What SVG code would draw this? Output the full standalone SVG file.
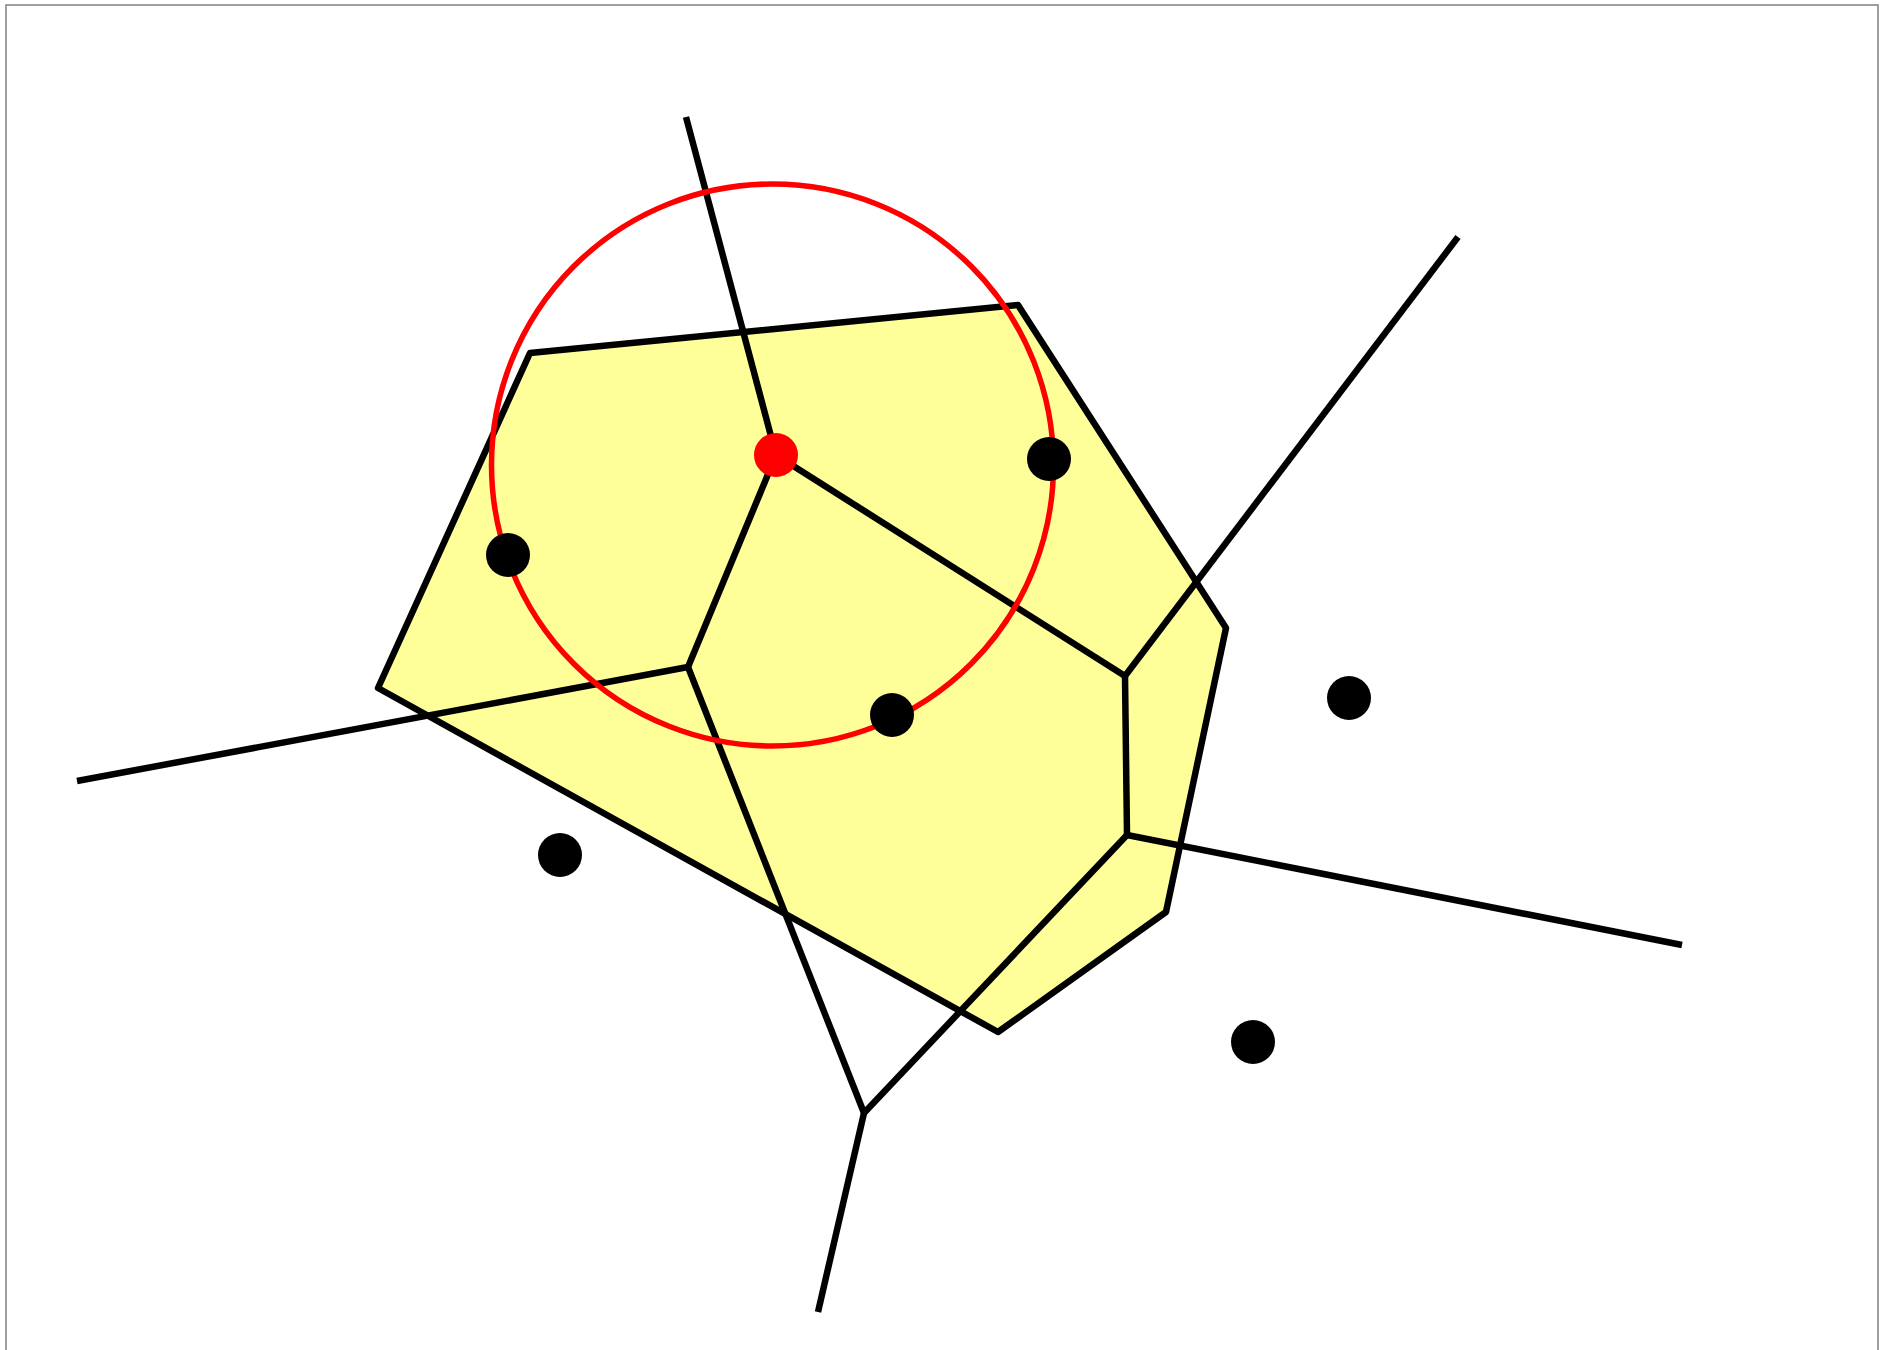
<svg xmlns="http://www.w3.org/2000/svg" width="1886" height="1350" viewBox="0 0 1886 1350">
<style>
.edge{stroke:#000;stroke-width:6.5;fill:none;stroke-linejoin:round}
.site{fill:#000}
</style>
<rect x="0" y="0" width="1886" height="1350" fill="#fff"/>
<rect x="6" y="5" width="1872" height="1360" fill="none" stroke="#808080" stroke-width="1.5"/>
<g id="cell">
<polygon points="530,353 1018,305 1226,628 1166,912 998,1032 378,688" fill="#ffff99" stroke="#000" stroke-width="6.5" stroke-linejoin="round"/>
</g>
<g id="edges">
<line class="edge" x1="686" y1="117" x2="776" y2="455"/>
<line class="edge" x1="776" y1="455" x2="1125" y2="676"/>
<line class="edge" x1="1125" y1="676" x2="1458" y2="237"/>
<line class="edge" x1="1125" y1="676" x2="1127" y2="835"/>
<line class="edge" x1="1127" y1="835" x2="1682" y2="945"/>
<line class="edge" x1="1127" y1="835" x2="864" y2="1113"/>
<line class="edge" x1="864" y1="1113" x2="818" y2="1312"/>
<line class="edge" x1="864" y1="1113" x2="688" y2="667"/>
<line class="edge" x1="688" y1="667" x2="776" y2="455"/>
<line class="edge" x1="688" y1="667" x2="77" y2="781"/>
</g>
<g id="circle">
<circle cx="772.5" cy="465" r="281" fill="none" stroke="#ff0000" stroke-width="5.5"/>
</g>
<g id="sites">
<circle id="p-new" cx="776" cy="455" r="22" fill="#ff0000"/>
<circle id="p1" class="site" cx="508" cy="555" r="22"/>
<circle id="p2" class="site" cx="1049" cy="459" r="22"/>
<circle id="p3" class="site" cx="892" cy="715" r="22"/>
<circle id="p4" class="site" cx="560" cy="855" r="22"/>
<circle id="p5" class="site" cx="1349" cy="698" r="22"/>
<circle id="p6" class="site" cx="1253" cy="1042" r="22"/>
</g>
</svg>
